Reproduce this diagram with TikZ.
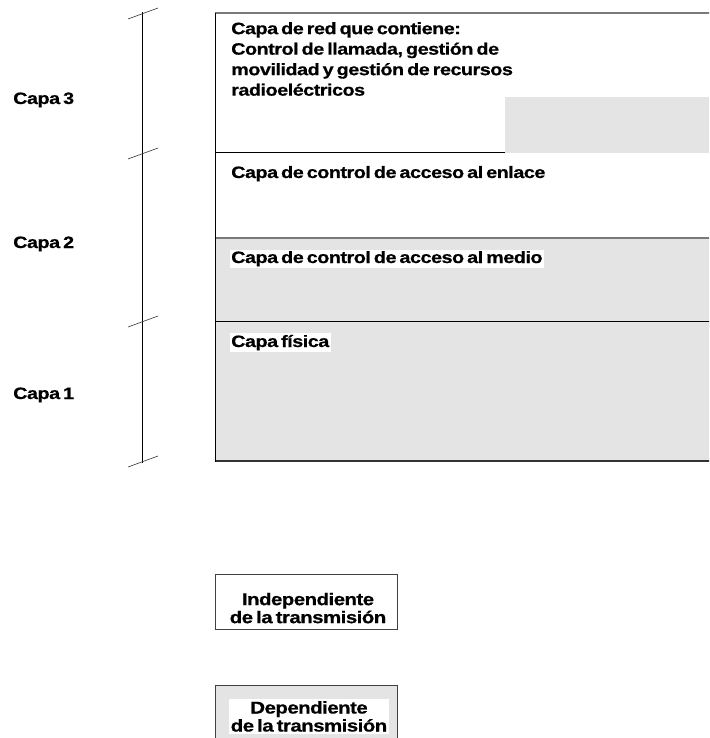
\documentclass[tikz,border=0pt]{standalone}
\usepackage{fontspec}
\setmainfont{Liberation Sans}[FakeStretch=1.2, LetterSpace=-3.0, WordSpace=0.6, FakeBold=0.6]
\definecolor{layergray}{HTML}{E4E4E4}
\definecolor{rulegray}{HTML}{7A7A7A}
\begin{document}
\begin{tikzpicture}[x=1pt,y=-1pt,
  lbl/.style={font=\fontsize{16.5}{20.5}\selectfont\bfseries, inner sep=0pt, anchor=base west},
  hl/.style={lbl, fill=white, inner sep=1.5pt},
  boxtxt/.style={font=\fontsize{17}{18}\selectfont\bfseries, align=center, inner sep=0pt, anchor=north},
  tickmark/.style={line width=0.6pt, draw=black!80},
  blackrule/.style={line width=1pt, draw=black},
  grayrule/.style={line width=1.6pt, draw=rulegray}]
\useasboundingbox (0,0) rectangle (709,738);
\clip (0,0) rectangle (709,738);
\fill[white] (0,0) rectangle (709,738);

% layer stack: shaded regions
\fill[layergray] (505,97) rectangle (720,153);
\fill[layergray] (215,238) rectangle (720,461);

% layer stack: borders
\draw[grayrule] (215,13) -- (720,13);
\draw[blackrule] (215,153) -- (505,153);
\draw[grayrule] (215,238) -- (720,238);
\draw[blackrule] (215,321) -- (720,321);
\draw[line width=2.2pt, draw=black!80] (215,461) -- (720,461);
\draw[blackrule] (215,13) -- (215,462);

% layer bracket on the left
\coordinate (spineT) at (142,12);
\coordinate (spineB) at (142,463);
\draw[line width=0.8pt] (spineT) -- (spineB);
\foreach \y in {13,153,321,461}
  \draw[tickmark] (128,\y+6) -- (158,\y-5);

% layer names
\node[lbl] (c3) at (13,104) {Capa 3};
\node[lbl] (c2) at (13,248) {Capa 2};
\node[lbl] (c1) at (13,399) {Capa 1};

% layer contents
\node[lbl, anchor=north west, align=left] (red) at (231,22)
  {Capa de red que contiene:\\Control de llamada, gestión de\\movilidad y gestión de recursos\\radioeléctricos};
\node[lbl] (enlace) at (231,178) {Capa de control de acceso al enlace};
\node[hl] (medio) at (229.5,263) {Capa de control de acceso al medio};
\node[hl] (fisica) at (229.5,347) {Capa física};

% legend
\draw[line width=0.8pt, draw=black!75, fill=white] (215,574) rectangle (397,629);
\node[boxtxt] (indep) at (308,592.6) {Independiente\\de la transmisión};
\draw[line width=0.8pt, draw=black!75, fill=layergray] (215,685) rectangle (397,745);
\node[boxtxt, fill=white, inner sep=2pt] (dep) at (309,699) {Dependiente\\de la transmisión};
\end{tikzpicture}
\end{document}
